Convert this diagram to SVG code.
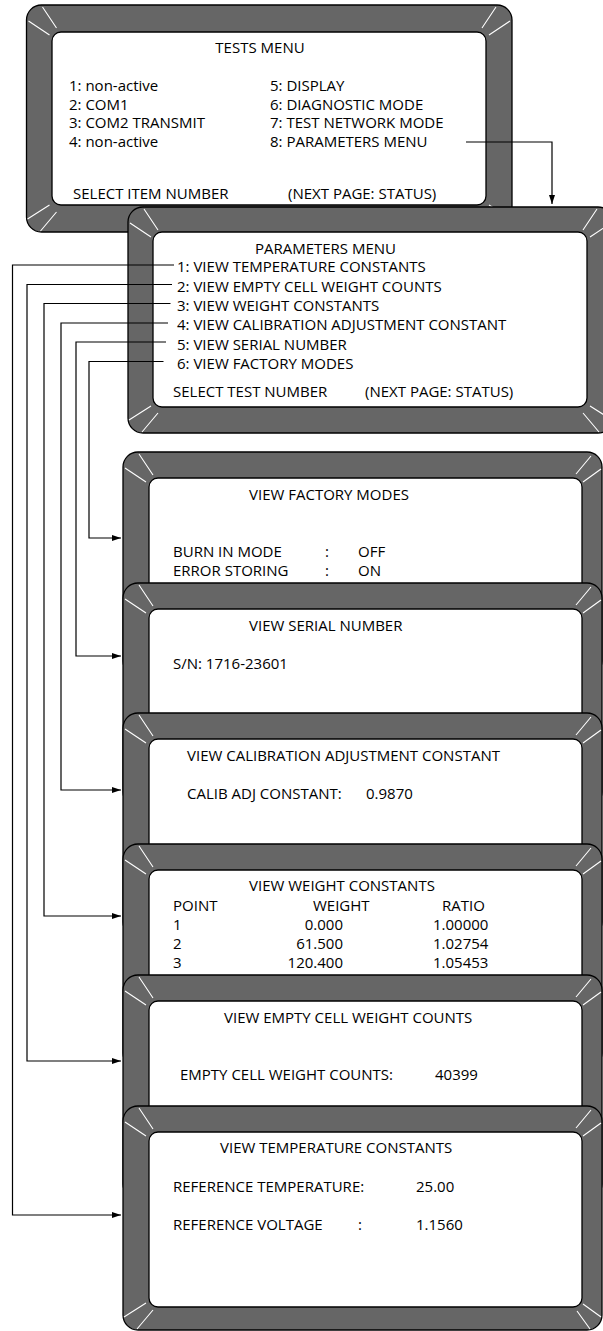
<svg xmlns="http://www.w3.org/2000/svg" width="603" height="1331" viewBox="0 0 603 1331">
<style>
.bez{fill:#666666;stroke:#000;stroke-width:1.3}
.pan{fill:#fff;stroke:#000;stroke-width:1.3}
.hl{stroke:#fff;stroke-width:1.1;fill:none}
text{font-family:"Open Sans","Noto Sans","Liberation Sans",sans-serif;font-size:15px;fill:#000}
.mid{text-anchor:middle}
.end{text-anchor:end}
.con{fill:none;stroke:#000;stroke-width:1.2}
</style>
<defs>
<marker id="ah" markerWidth="9" markerHeight="6" refX="9" refY="3" orient="auto" markerUnits="userSpaceOnUse">
<path d="M0,0 L9,3 L0,6 Z" fill="#000"/>
</marker>
</defs>

<g id="tests-menu">
<rect class="bez" x="26.5" y="5" width="485.5" height="227" rx="15"/>
<rect class="pan" x="52" y="32" width="434" height="173" rx="9"/>
<path class="hl" d="M42.5,7 L56.5,28 M28.5,21 L49.5,35 M496,7 L482,28 M510,21 L489,35 M27.5,219 L49.5,205 M40.5,231 L56.5,212 M511,219 L489,205 M498,231 L482,212"/>
<text class="mid" x="260" y="53">TESTS MENU</text>
<text x="69" y="91">1: non-active</text>
<text x="69" y="109.5">2: COM1</text>
<text x="69" y="128">3: COM2 TRANSMIT</text>
<text x="69" y="146.5">4: non-active</text>
<text x="270" y="91">5: DISPLAY</text>
<text x="270" y="109.5">6: DIAGNOSTIC MODE</text>
<text x="270" y="128">7: TEST NETWORK MODE</text>
<text x="270" y="146.5">8: PARAMETERS MENU</text>
<text x="73" y="199">SELECT ITEM NUMBER</text>
<text x="288" y="199">(NEXT PAGE: STATUS)</text>
</g>

<g id="parameters-menu">
<rect class="bez" x="128" y="207" width="485" height="226" rx="15"/>
<rect class="pan" x="153" y="232" width="434" height="175" rx="9"/>
<path class="hl" d="M144,209 L158,230 M130,223 L151,237 M597,209 L583,230 M611,223 L590,237 M129,420 L151,406 M142,432 L158,413 M612,420 L590,406 M599,432 L583,413"/>
<text class="mid" x="325.5" y="254">PARAMETERS MENU</text>
<text x="177" y="272">1: VIEW TEMPERATURE CONSTANTS</text>
<text x="177" y="291.5">2: VIEW EMPTY CELL WEIGHT COUNTS</text>
<text x="177" y="311">3: VIEW WEIGHT CONSTANTS</text>
<text x="177" y="330">4: VIEW CALIBRATION ADJUSTMENT CONSTANT</text>
<text x="177" y="349.5">5: VIEW SERIAL NUMBER</text>
<text x="177" y="368.5">6: VIEW FACTORY MODES</text>
<text x="173" y="397">SELECT TEST NUMBER</text>
<text x="365" y="397">(NEXT PAGE: STATUS)</text>
</g>

<g id="view-factory-modes">
<rect class="bez" x="123" y="452" width="479" height="224" rx="15"/>
<rect class="pan" x="149" y="478" width="433" height="175" rx="9"/>
<path class="hl" d="M139,454 L153,475 M125,468 L146,482 M591,456 L576,474 M601,469 L583,482"/>
<text x="249" y="500">VIEW FACTORY MODES</text>
<text x="173" y="557">BURN IN MODE</text>
<text x="325" y="557">:</text>
<text x="358" y="557">OFF</text>
<text x="173" y="576">ERROR STORING</text>
<text x="325" y="576">:</text>
<text x="358" y="576">ON</text>
</g>

<g id="view-serial-number">
<rect class="bez" x="123" y="583" width="479" height="224" rx="15"/>
<rect class="pan" x="149" y="609" width="433" height="175" rx="9"/>
<path class="hl" d="M139,585 L153,606 M125,599 L146,613 M591,587 L576,605 M601,600 L583,613"/>
<text x="249" y="631">VIEW SERIAL NUMBER</text>
<text x="173" y="669">S/N: 1716-23601</text>
</g>

<g id="view-calibration-adjustment-constant">
<rect class="bez" x="123" y="713" width="479" height="224" rx="15"/>
<rect class="pan" x="149" y="739" width="433" height="175" rx="9"/>
<path class="hl" d="M139,715 L153,736 M125,729 L146,743 M591,717 L576,735 M601,730 L583,743"/>
<text x="187" y="761">VIEW CALIBRATION ADJUSTMENT CONSTANT</text>
<text x="187" y="799">CALIB ADJ CONSTANT:</text>
<text x="366" y="799">0.9870</text>
</g>

<g id="view-weight-constants">
<rect class="bez" x="123" y="844" width="479" height="224" rx="15"/>
<rect class="pan" x="149" y="870" width="433" height="175" rx="9"/>
<path class="hl" d="M139,846 L153,867 M125,860 L146,874 M591,848 L576,866 M601,861 L583,874"/>
<text x="249" y="891">VIEW WEIGHT CONSTANTS</text>
<text x="173" y="911">POINT</text>
<text x="313" y="911">WEIGHT</text>
<text x="442" y="911">RATIO</text>
<text x="173" y="930">1</text>
<text class="end" x="343" y="930">0.000</text>
<text x="433" y="930">1.00000</text>
<text x="173" y="949">2</text>
<text class="end" x="343" y="949">61.500</text>
<text x="433" y="949">1.02754</text>
<text x="173" y="968">3</text>
<text class="end" x="343" y="968">120.400</text>
<text x="433" y="968">1.05453</text>
</g>

<g id="view-empty-cell-weight-counts">
<rect class="bez" x="123" y="975" width="479" height="224" rx="15"/>
<rect class="pan" x="149" y="1001" width="433" height="175" rx="9"/>
<path class="hl" d="M139,977 L153,998 M125,991 L146,1005 M591,979 L576,997 M601,992 L583,1005"/>
<text x="224" y="1023">VIEW EMPTY CELL WEIGHT COUNTS</text>
<text x="180" y="1080">EMPTY CELL WEIGHT COUNTS:</text>
<text x="435" y="1080">40399</text>
</g>

<g id="view-temperature-constants">
<rect class="bez" x="123" y="1106" width="479" height="224" rx="15"/>
<rect class="pan" x="149" y="1132" width="433" height="175" rx="9"/>
<path class="hl" d="M139,1108 L153,1129 M125,1122 L146,1136 M591,1110 L576,1128 M601,1123 L583,1136 M124,1317 L146,1303 M137,1329 L153,1310 M601,1317 L583,1304 M590,1329 L577,1311"/>
<text x="220" y="1153">VIEW TEMPERATURE CONSTANTS</text>
<text x="173" y="1192">REFERENCE TEMPERATURE:</text>
<text x="416" y="1192">25.00</text>
<text x="173" y="1230">REFERENCE VOLTAGE</text>
<text x="358" y="1230">:</text>
<text x="416" y="1230">1.1560</text>
</g>

<g id="connectors">
<path class="con" marker-end="url(#ah)" d="M466,142 H552 V204"/>
<path class="con" marker-end="url(#ah)" d="M174,265 H12.5 V1215 H121"/>
<path class="con" marker-end="url(#ah)" d="M172,284.5 H27 V1061 H121"/>
<path class="con" marker-end="url(#ah)" d="M170.5,303.5 H44 V916 H121"/>
<path class="con" marker-end="url(#ah)" d="M168,323 H61 V790 H121"/>
<path class="con" marker-end="url(#ah)" d="M166,342 H76 V656 H121"/>
<path class="con" marker-end="url(#ah)" d="M163.5,361.5 H89 V538 H121"/>
</g>
</svg>
